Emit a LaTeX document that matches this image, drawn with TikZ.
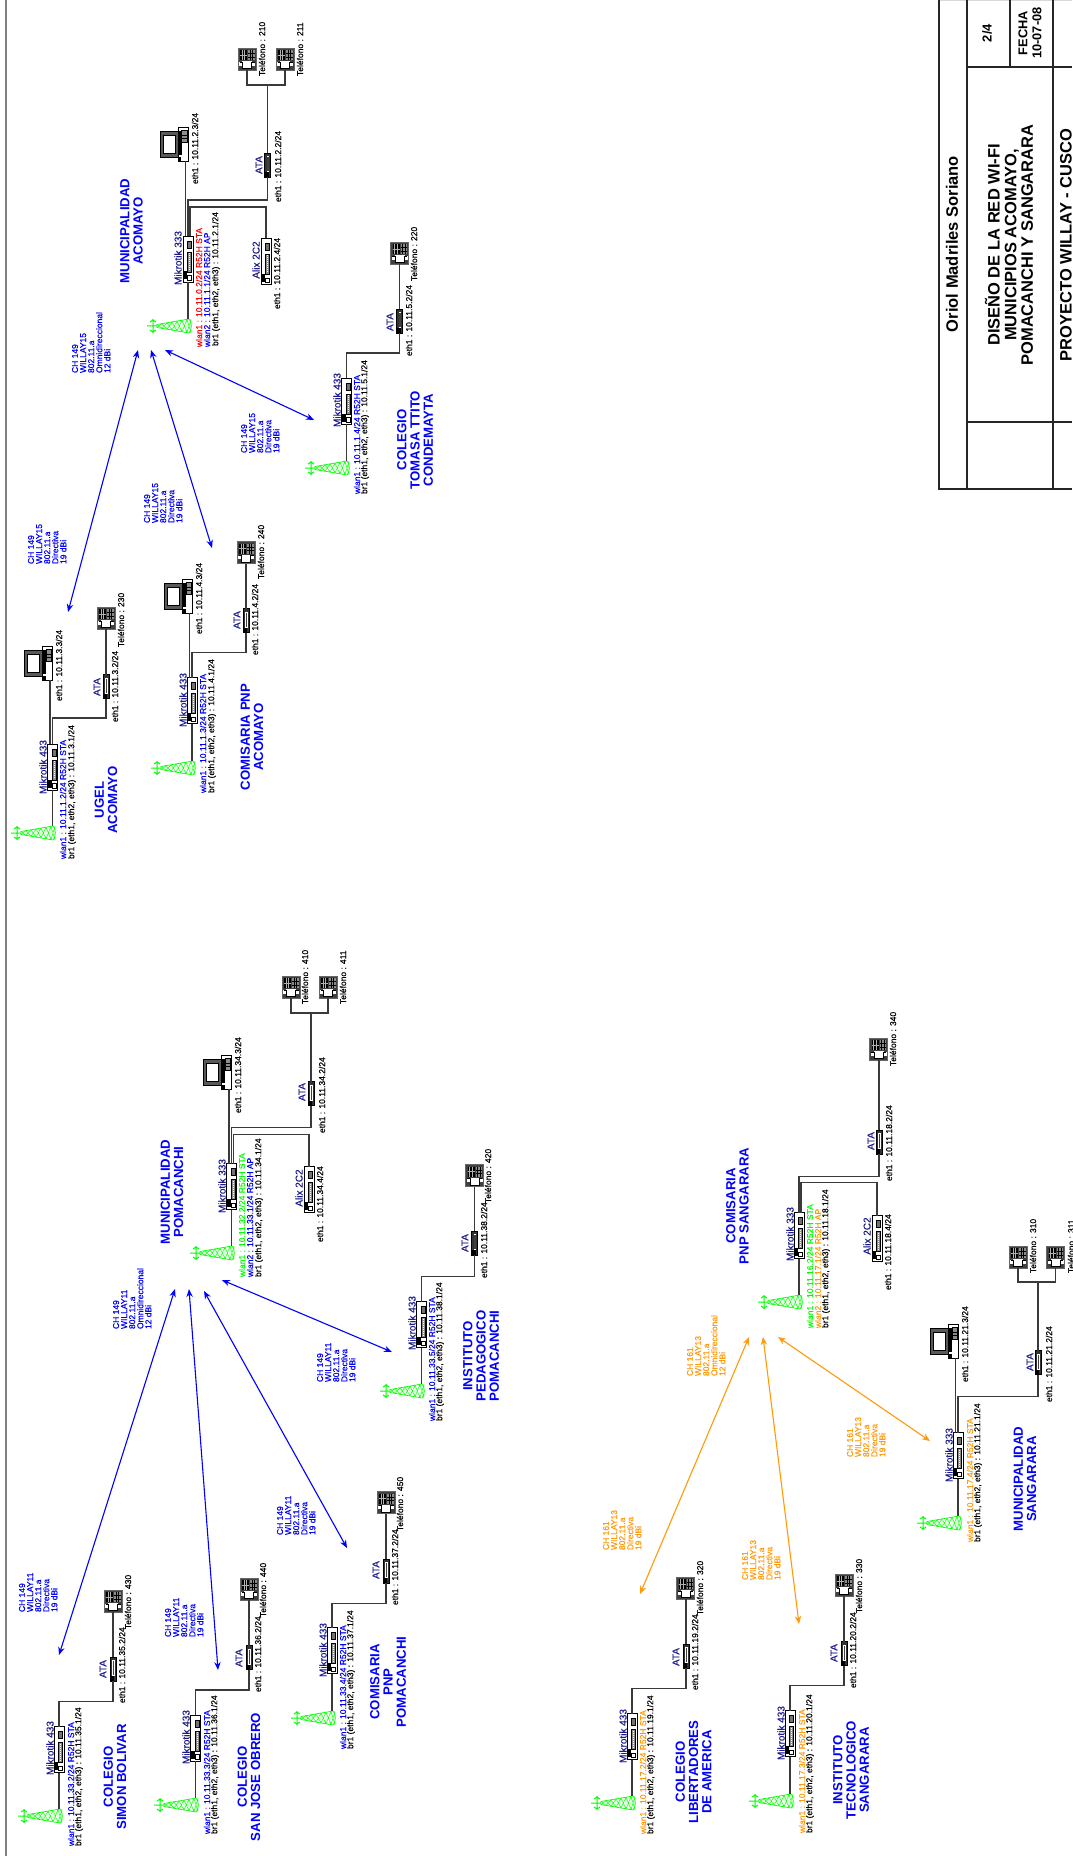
\documentclass[tikz,border=0pt]{standalone}
\usepackage{fontspec}
\setmainfont{Liberation Sans}
\newfontfamily\smallf[FakeBold=0.3]{Liberation Sans}
\usetikzlibrary{arrows.meta}
\definecolor{navyc}{HTML}{1A1A8C}
\definecolor{orangec}{HTML}{FF9A0A}
\definecolor{bluec}{HTML}{0000FF}
\definecolor{greenc}{HTML}{00FF00}
\definecolor{redc}{HTML}{FF0000}
\definecolor{wirec}{HTML}{3A3A3A}
\newcounter{lblc}
\tikzset{
  base/.style={rotate=90,inner sep=0pt,outer sep=0pt},
  lab/.style={base,anchor=west,font=\smallf\fontsize{4.25}{4.25}\selectfont},
  dev/.style={base,anchor=center,text=navyc,font=\smallf\fontsize{5}{5}\selectfont},
  ant/.style={base,anchor=north west,align=left,font=\smallf\fontsize{4.25}{4.05}\selectfont},
  tit/.style={base,anchor=center,align=center,text=bluec,font=\fontsize{6.6}{6.65}\selectfont\bfseries},
  hdr/.style={base,anchor=center,align=center,text=black,font=\fontsize{8.25}{8.35}\selectfont\bfseries},
  wire/.style={draw=wirec,line width=0.6pt},
  frameln/.style={draw=black!85,line width=0.7pt},
  link/.style={line width=0.55pt,{Stealth[length=4pt,width=3.2pt]}-{Stealth[length=4pt,width=3.2pt]}},
  boxnode/.style={draw=black,fill=white,line width=0.4pt,inner sep=0pt,outer sep=0pt},
  towerln/.style={draw=greenc,line width=0.22pt},
}
\newcommand{\tx}[4][black]{\stepcounter{lblc}\node[lab,text=#1] (l\arabic{lblc}) at (#2,#3) {#4};}
\newcommand{\dv}[3]{\stepcounter{lblc}\node[dev] (l\arabic{lblc}) at (#1,#2) {#3};}
\newcommand{\an}[4][bluec]{\stepcounter{lblc}\node[ant,text=#1] (l\arabic{lblc}) at (#2,#3) {#4};}
\newcommand{\ti}[3]{\stepcounter{lblc}\node[tit] (l\arabic{lblc}) at (#1,#2) {#3};}
% tower: #2 = right edge, #3 = centre line
\newcommand{\Tower}[3]{%
  \node[inner sep=0pt,outer sep=0pt,minimum width=22.5pt,minimum height=7pt] (#1) at (#2-22.5,#3) {};
  \begin{scope}[shift={(#2,#3)}]
    \draw[towerln,line width=0.35pt] (-35,-1.5) -- (-3,-7) .. controls (0,-5) and (0,5) .. (-3,7) -- (-35,1.5) -- cycle;
    \foreach \xa/\ha/\xb/\hb in {-35/1.5/-30/2.4,-30/2.4/-25/3.2,-25/3.2/-20/4.1,-20/4.1/-15/4.9,-15/4.9/-10/5.8,-10/5.8/-5/6.7,-5/6.7/-1/7}{
      \draw[towerln] (\xa,-\ha) -- (\xb,\hb) (\xa,\ha) -- (\xb,-\hb) (\xb,-\hb) -- (\xb,\hb);
    }
    \draw[towerln,line width=0.5pt] (-45,0) -- (-35,0) (-39,-7) -- (-39,7) (-42,-4) -- (-39,-6) -- (-36,-4) (-42,4) -- (-39,6) -- (-36,4);
  \end{scope}}
\newcommand{\Router}[3]{%
  \node[boxnode,minimum width=5pt,minimum height=23pt] (#1) at (#2,#3) {};
  \begin{scope}[shift={(#2,#3)}]
    \fill[black] (-4.5,12.5) rectangle (-1,20.5);
    \draw[black,line width=0.25pt,fill=white] (-0.5,16.5) rectangle (3.5,21);
    \draw[black,line width=0.25pt,fill=black!45] (-0.5,-7) rectangle (3.5,13);
    \draw[white,line width=0.5pt,dash pattern=on 0.5pt off 0.5pt] (1.5,-6) -- (1.5,12);
    \draw[black,line width=0.25pt,fill=black!55] (-0.5,-18) rectangle (3.5,-11);
  \end{scope}}
\newcommand{\Ata}[3]{%
  \node[boxnode,fill=black!80,minimum width=3pt,minimum height=12pt] (#1) at (#2,#3) {};
  \begin{scope}[shift={(#2,#3)}]
    \fill[white] (-0.8,-9) rectangle (1.6,7);
    \fill[black!75] (-0.2,-8) rectangle (1,6);
    \fill[black] (-3,7) rectangle (1,12);
  \end{scope}}
\newcommand{\Phone}[3]{%
  \node[boxnode,fill=black!75,draw=black!60,minimum width=9pt,minimum height=11pt] (#1) at (#2,#3) {};
  \begin{scope}[shift={(#2,#3)}]
    \fill[black] (-7,-9) rectangle (0,1);
    \fill[black!45] (1,-9) rectangle (7.5,1);
    \draw[black,line width=0.25pt] (1,-5.5) -- (7.5,-5.5) (1,-2) -- (7.5,-2) (3,-9) -- (3,1) (5.3,-9) -- (5.3,1);
    \draw[black!30,line width=0.25pt] (-5,-9) -- (-5,1) (-2.5,-9) -- (-2.5,1) (-7,-4) -- (0,-4);
    \draw[white,fill=white] (-7.5,3.5) rectangle (7.5,6) (-4.5,2.5) rectangle (4.5,9.5);
    \draw[black,line width=0.25pt] (-7.5,3) -- (-4.5,3) -- (-4.5,9.5) -- (4.5,9.5) -- (4.5,3) -- (7.5,3);
  \end{scope}}
\newcommand{\Pc}[3]{%
  \node[inner sep=0pt,outer sep=0pt,minimum width=14pt,minimum height=17pt] (#1) at (#2,#3) {};
  \begin{scope}[shift={(#2,#3)}]
    \draw[black,line width=0.35pt,fill=black!65] (-14,-13) rectangle (4,13);
    \draw[black,line width=0.35pt,fill=white] (-11,-9) rectangle (1,9);
    \draw[black,line width=0.35pt,fill=white] (4,-17) rectangle (14,17);
    \fill[black] (4,-13) rectangle (7.5,11);
    \draw[black,line width=0.25pt,fill=black!45] (7.5,-13.5) rectangle (13,-2);
    \draw[black,line width=0.25pt] (7.5,-9) -- (13,-9) (7.5,-5.5) -- (13,-5.5);
    \fill[black] (4,13) rectangle (7,17);
  \end{scope}}
\begin{document}
\begin{tikzpicture}[x=0.5pt,y=-0.5pt]
\useasboundingbox (0,0) rectangle (1072,1856);
\fill[white] (0,0) rectangle (1072,1856);
% outer frame line
\coordinate (ft) at (6,0); \coordinate (fb) at (6,1856);
\draw[draw=black!50,line width=1pt] (ft) -- (fb);
% title block
\coordinate (b0) at (939,0); \coordinate (b1) at (939,489); \coordinate (b2) at (1072,489);
\coordinate (v1t) at (967,0); \coordinate (v1b) at (967,489);
\coordinate (v2t) at (1053,0); \coordinate (v2b) at (1053,489);
\coordinate (h1l) at (967,67); \coordinate (h1r) at (1072,67);
\coordinate (h2l) at (967,422); \coordinate (h2r) at (1072,422);
\coordinate (v3t) at (1010,0); \coordinate (v3b) at (1010,67);
\coordinate (tl) at (939,0.5); \coordinate (tr) at (1072,0.5);
\draw[draw=black!15,line width=0.7pt] (tl) -- (tr);
\draw[frameln] (b0) -- (b1) -- (b2);
\draw[frameln] (v1t) -- (v1b);
\draw[frameln] (v2t) -- (v2b);
\draw[frameln] (h1l) -- (h1r);
\draw[frameln] (h2l) -- (h2r);
\draw[frameln] (v3t) -- (v3b);
\node[hdr] (h1) at (952,244) {Oriol Madriles Soriano};
\node[hdr] (h2) at (1009,245) {DISEÑO DE LA RED WI-FI\\MUNICIPIOS ACOMAYO,\\POMACANCHI Y SANGARARA};
\node[hdr] (h3) at (1066,245) {PROYECTO WILLAY - CUSCO};
\node[hdr,font=\fontsize{6.5}{6.5}\selectfont\bfseries] (h4) at (987,33) {2/4};
\node[hdr,font=\fontsize{6.4}{7}\selectfont\bfseries] (h5) at (1030,33) {FECHA\\10-07-08};

% ---------- MUNICIPALIDAD ACOMAYO
\Tower{t1}{192}{326}\Router{r1}{188}{259}\Ata{a1}{267.5}{165}\Phone{p1a}{247}{59}\Phone{p1b}{285}{59}\Router{x1}{266}{261.5}\Pc{c1}{174}{144}
\draw[wire] (t1.north -| r1.south) -- (r1.south);
\draw[wire] ([xshift=-1.25pt]r1.north) -- ([xshift=-1.25pt]r1.north |- c1.south);
\draw[wire] (r1.north) -- ++(0,-36) -| (a1.south);
\draw[wire] ([xshift=1pt]r1.north) -- ++(0,-29) -| (x1.north);
\coordinate (j1) at (267.5,85);
\draw[wire] (a1.north) -- (j1);
\draw[wire] (p1a.south) -- (p1a.south |- j1) -- (p1b.south |- j1) -- (p1b.south);
\dv{178}{258}{Mikrotik 333}
\tx[redc]{199}{347}{wlan1 : 10.11.0.2/24 R52H STA}
\tx[bluec]{207}{347}{wlan2 : 10.11.1.1/24 R52H AP}
\tx{216}{346}{br1 (eth1, eth2, eth3) : 10.11.2.1/24}
\tx{195}{184}{eth1 : 10.11.2.3/24}
\tx{278}{202}{eth1 : 10.11.2.2/24}
\dv{259}{165}{ATA}\dv{256}{260}{Alix 2C2}
\tx{277}{309}{eth1 : 10.11.2.4/24}
\tx{262}{76}{Teléfono : 210}\tx{300}{76}{Teléfono : 211}
\ti{131.5}{231}{MUNICIPALIDAD\\ACOMAYO}
\an{72}{373}{CH 149\\WILLAY15\\802.11.a\\Omnidireccional\\12 dBi}

% ---------- TOMASA TTITO
\Tower{t2}{350}{468}\Router{r2}{346.5}{401}\Ata{a2}{399.5}{321}\Phone{p2}{399.5}{253}
\draw[wire] (t2.north -| r2.south) -- (r2.south);
\draw[wire] (r2.north) -- ++(0,-25) -| (a2.south);
\draw[wire] (a2.north) -- (p2.south);
\dv{337}{400}{Mikrotik 433}
\tx[bluec]{357}{494}{wlan1 : 10.11.1.4/24 R52H STA}
\tx{365}{494}{br1 (eth1, eth2, eth3) : 10.11.5.1/24}
\dv{390}{322}{ATA}
\tx{409}{356}{eth1 : 10.11.5.2/24}\tx{414}{281}{Teléfono : 220}
\ti{415}{440}{COLEGIO\\TOMASA TTITO\\CONDEMAYTA}
\an{241}{453}{CH 149\\WILLAY15\\802.11.a\\Directiva\\19 dBi}

% ---------- UGEL
\Tower{t3}{56}{833}\Router{r3}{52.5}{767}\Ata{a3}{106}{686.5}\Phone{p3}{106}{618}\Pc{c3}{38.5}{663}
\draw[wire] (t3.north -| r3.south) -- (r3.south);
\draw[wire] ([xshift=-1.25pt]r3.north) -- ([xshift=-1.25pt]r3.north |- c3.south);
\draw[wire] (r3.north) -- ++(0,-26) -| (a3.south);
\draw[wire] (a3.north) -- (p3.south);
\dv{43}{767}{Mikrotik 433}
\tx[bluec]{63}{859}{wlan1 : 10.11.1.2/24 R52H STA}
\tx{72}{859}{br1 (eth1, eth2, eth3) : 10.11.3.1/24}
\tx{59}{701}{eth1 : 10.11.3.3/24}
\dv{97}{687}{ATA}
\tx{115}{722}{eth1 : 10.11.3.2/24}\tx{121}{647}{Teléfono : 230}
\ti{106}{800}{UGEL\\ACOMAYO}
\an{28}{564}{CH 149\\WILLAY15\\802.11.a\\Directiva\\19 dBi}

% ---------- COMISARIA PNP ACOMAYO
\Tower{t4}{196}{768}\Router{r4}{192}{700.5}\Ata{a4}{246}{620.5}\Phone{p4}{246}{552.5}\Pc{c4}{178.5}{596}
\draw[wire] (t4.north -| r4.south) -- (r4.south);
\draw[wire] ([xshift=-1.25pt]r4.north) -- ([xshift=-1.25pt]r4.north |- c4.south);
\draw[wire] (r4.north) -- ++(0,-25) -| (a4.south);
\draw[wire] (a4.north) -- (p4.south);
\dv{183}{700}{Mikrotik 433}
\tx[bluec]{203}{793}{wlan1 : 10.11.1.3/24 R52H STA}
\tx{212}{793}{br1 (eth1, eth2, eth3) : 10.11.4.1/24}
\tx{199}{634}{eth1 : 10.11.4.3/24}
\dv{237}{620}{ATA}
\tx{255}{655}{eth1 : 10.11.4.2/24}\tx{261}{579}{Teléfono : 240}
\ti{252}{737}{COMISARIA PNP\\ACOMAYO}
\an{144}{523}{CH 149\\WILLAY15\\802.11.a\\Directiva\\19 dBi}

% acomayo links
\coordinate (la1) at (138,350); \coordinate (la2) at (68,612);
\coordinate (lb1) at (151,350); \coordinate (lb2) at (212,548);
\coordinate (lc1) at (165,350); \coordinate (lc2) at (314,420);
\draw[link,bluec] (la1) -- (la2);
\draw[link,bluec] (lb1) -- (lb2);
\draw[link,bluec] (lc1) -- (lc2);

% ---------- MUNICIPALIDAD POMACANCHI
\Tower{t5}{235}{1253}\Router{r5}{231.5}{1186.5}\Ata{a5}{311}{1093.5}\Phone{p5a}{291}{987}\Phone{p5b}{328}{987}\Router{x5}{309}{1189.5}\Pc{c5}{217.5}{1072}
\draw[wire] (t5.north -| r5.south) -- (r5.south);
\draw[wire] ([xshift=-1.25pt]r5.north) -- ([xshift=-1.25pt]r5.north |- c5.south);
\draw[wire] (r5.north) -- ++(0,-36) -| (a5.south);
\draw[wire] ([xshift=1pt]r5.north) -- ++(0,-29) -| (x5.north);
\coordinate (j5) at (311,1013);
\draw[wire] (a5.north) -- (j5);
\draw[wire] (p5a.south) -- (p5a.south |- j5) -- (p5b.south |- j5) -- (p5b.south);
\dv{222}{1186}{Mikrotik 333}
\tx[greenc]{242}{1277}{wlan1 : 10.11.32.2/24 R52H STA}
\tx[bluec]{250}{1277}{wlan2 : 10.11.33.1/24 R52H AP}
\tx{259}{1277}{br1 (eth1, eth2, eth3) : 10.11.34.1/24}
\tx{238}{1113}{eth1 : 10.11.34.3/24}
\dv{302}{1092}{ATA}
\tx{322}{1133}{eth1 : 10.11.34.2/24}
\dv{299}{1188}{Alix 2C2}
\tx{320}{1242}{eth1 : 10.11.34.4/24}
\tx{305}{1004}{Teléfono : 410}\tx{343}{1004}{Teléfono : 411}
\ti{172}{1192}{MUNICIPALIDAD\\POMACANCHI}
\an{113}{1329}{CH 149\\WILLAY11\\802.11.a\\Omnidireccional\\12 dBi}

% ---------- INSTITUTO PEDAGOGICO
\Tower{t6}{425}{1391}\Router{r6}{421.5}{1324.5}\Ata{a6}{474.5}{1243}\Phone{p6}{474.5}{1175.5}
\draw[wire] (t6.north -| r6.south) -- (r6.south);
\draw[wire] (r6.north) -- ++(0,-25) -| (a6.south);
\draw[wire] (a6.north) -- (p6.south);
\dv{412}{1323}{Mikrotik 433}
\tx[bluec]{432}{1421}{wlan1 : 10.11.33.5/24 R52H STA}
\tx{440}{1421}{br1 (eth1, eth2, eth3) : 10.11.38.1/24}
\dv{465}{1243}{ATA}
\tx{484}{1278}{eth1 : 10.11.38.2/24}\tx{488}{1203}{Teléfono : 420}
\ti{481}{1356}{INSTITUTO\\PEDAGOGICO\\POMACANCHI}
\an{317}{1382}{CH 149\\WILLAY11\\802.11.a\\Directiva\\19 dBi}

% ---------- SIMON BOLIVAR
\Tower{t7}{63}{1816}\Router{r7}{59}{1749.5}\Ata{a7}{113}{1669}\Phone{p7}{113}{1601}
\draw[wire] (t7.north -| r7.south) -- (r7.south);
\draw[wire] (r7.north) -- ++(0,-25) -| (a7.south);
\draw[wire] (a7.north) -- (p7.south);
\dv{50}{1748}{Mikrotik 433}
\tx[bluec]{71}{1846}{wlan1 : 10.11.33.2/24 R52H STA}
\tx{79}{1846}{br1 (eth1, eth2, eth3) : 10.11.35.1/24}
\dv{103}{1669}{ATA}
\tx{122}{1703}{eth1 : 10.11.35.2/24}\tx{128}{1629}{Teléfono : 430}
\ti{115}{1777}{COLEGIO\\SIMON BOLIVAR}
\an{19}{1612}{CH 149\\WILLAY11\\802.11.a\\Directiva\\19 dBi}

% ---------- SAN JOSE OBRERO
\Tower{t8}{199}{1805}\Router{r8}{195.5}{1738}\Ata{a8}{249}{1657.5}\Phone{p8}{249}{1589}
\draw[wire] (t8.north -| r8.south) -- (r8.south);
\draw[wire] (r8.north) -- ++(0,-25) -| (a8.south);
\draw[wire] (a8.north) -- (p8.south);
\dv{186}{1737}{Mikrotik 433}
\tx[bluec]{207}{1834}{wlan1 : 10.11.33.3/24 R52H STA}
\tx{215}{1834}{br1 (eth1, eth2, eth3) : 10.11.36.1/24}
\dv{239}{1658}{ATA}
\tx{258}{1692}{eth1 : 10.11.36.2/24}\tx{263}{1617}{Teléfono : 440}
\ti{249}{1777}{COLEGIO\\SAN JOSE OBRERO}
\an{165}{1637}{CH 149\\WILLAY11\\802.11.a\\Directiva\\19 dBi}

% ---------- COMISARIA PNP POMACANCHI
\Tower{t9}{336}{1718}\Router{r9}{332}{1650.5}\Ata{a9}{386}{1571}\Phone{p9}{386}{1502.5}
\draw[wire] (t9.north -| r9.south) -- (r9.south);
\draw[wire] (r9.north) -- ++(0,-24) -| (a9.south);
\draw[wire] (a9.north) -- (p9.south);
\dv{323}{1650}{Mikrotik 433}
\tx[bluec]{343}{1749}{wlan1 : 10.11.33.4/24 R52H STA}
\tx{351}{1749}{br1 (eth1, eth2, eth3) : 10.11.37.1/24}
\dv{376}{1570}{ATA}
\tx{395}{1605}{eth1 : 10.11.37.2/24}\tx{400}{1531}{Teléfono : 450}
\ti{388}{1682}{COMISARIA\\PNP\\POMACANCHI}
\an{277}{1535}{CH 149\\WILLAY11\\802.11.a\\Directiva\\19 dBi}

% pomacanchi links
\coordinate (ld1) at (175,1289); \coordinate (ld2) at (59,1655);
\coordinate (le1) at (189,1289); \coordinate (le2) at (218,1670);
\coordinate (lf1) at (204,1291); \coordinate (lf2) at (347,1548);
\coordinate (lg1) at (222,1280); \coordinate (lg2) at (392,1352);
\draw[link,bluec] (ld1) -- (ld2);
\draw[link,bluec] (le1) -- (le2);
\draw[link,bluec] (lf1) -- (lf2);
\draw[link,bluec] (lg1) -- (lg2);

% ---------- COMISARIA PNP SANGARARA
\Tower{t10}{803}{1302}\Router{r10}{799}{1235.5}\Ata{a10}{879}{1142}\Phone{p10}{878.5}{1049}\Router{x10}{877}{1238.5}
\draw[wire] (t10.north -| r10.south) -- (r10.south);
\draw[wire] (r10.north) -- ++(0,-36) -| (a10.south);
\draw[wire] ([xshift=1pt]r10.north) -- ++(0,-30) -| (x10.north);
\draw[wire] (a10.north) -- (a10.north |- p10.south);
\dv{790}{1234}{Mikrotik 333}
\tx[greenc]{810}{1328}{wlan1 : 10.11.16.2/24 R52H STA}
\tx[orangec]{818}{1328}{wlan2 : 10.11.17.1/24 R52H AP}
\tx{826}{1328}{br1 (eth1, eth2, eth3) : 10.11.18.1/24}
\dv{871}{1141}{ATA}
\tx{889}{1181}{eth1 : 10.11.18.2/24}
\dv{867}{1236}{Alix 2C2}
\tx{888}{1290}{eth1 : 10.11.18.4/24}
\tx{893}{1066}{Teléfono : 340}
\ti{737.5}{1206}{COMISARIA\\PNP SANGARARA}
\an[orangec]{687}{1376}{CH 161\\WILLAY13\\802.11.a\\Omnidireccional\\12 dBi}

% ---------- MUNICIPALIDAD SANGARARA
\Tower{t11}{962}{1523}\Router{r11}{958}{1455.5}\Ata{a11}{1038}{1362.5}\Phone{p11a}{1018}{1257}\Phone{p11b}{1055.5}{1257}\Pc{c11}{944.5}{1341}
\draw[wire] (t11.north -| r11.south) -- (r11.south);
\draw[wire] ([xshift=-1.25pt]r11.north) -- ([xshift=-1.25pt]r11.north |- c11.south);
\draw[wire] (r11.north) -- ++(0,-36) -| (a11.south);
\coordinate (j11) at (1038,1282);
\draw[wire] (a11.north) -- (j11);
\draw[wire] (p11a.south) -- (p11a.south |- j11) -- (p11b.south |- j11) -- (p11b.south);
\dv{949}{1455}{Mikrotik 333}
\tx[orangec]{970}{1542}{wlan1 : 10.11.17.4/24 R52H STA}
\tx{978}{1542}{br1 (eth1, eth2, eth3) : 10.11.21.1/24}
\tx{965}{1382}{eth1 : 10.11.21.3/24}
\dv{1030}{1362}{ATA}
\tx{1049}{1402}{eth1 : 10.11.21.2/24}
\tx{1033}{1273}{Teléfono : 310}\tx{1071}{1273}{Teléfono : 311}
\ti{1025}{1479}{MUNICIPALIDAD\\SANGARARA}
\an[orangec]{847}{1457}{CH 161\\WILLAY13\\802.11.a\\Directiva\\19 dBi}

% ---------- LIBERTADORES
\Tower{t12}{636}{1803}\Router{r12}{632}{1736.5}\Ata{a12}{686}{1656}\Phone{p12}{685.5}{1588}
\draw[wire] (t12.north -| r12.south) -- (r12.south);
\draw[wire] (r12.north) -- ++(0,-25) -| (a12.south);
\draw[wire] (a12.north) -- (a12.north |- p12.south);
\dv{623}{1736}{Mikrotik 433}
\tx[orangec]{643}{1834}{wlan1 : 10.11.17.2/24 R52H STA}
\tx{651}{1834}{br1 (eth1, eth2, eth3) : 10.11.19.1/24}
\dv{676}{1657}{ATA}
\tx{695}{1690}{eth1 : 10.11.19.2/24}\tx{700}{1615}{Teléfono : 320}
\ti{693.5}{1772}{COLEGIO\\LIBERTADORES\\DE AMERICA}
\an[orangec]{603}{1550}{CH 161\\WILLAY13\\802.11.a\\Directiva\\19 dBi}

% ---------- TECNOLOGICO SANGARARA
\Tower{t13}{794}{1801}\Router{r13}{790}{1733.5}\Ata{a13}{844}{1653.5}\Phone{p13}{844}{1585}
\draw[wire] (t13.north -| r13.south) -- (r13.south);
\draw[wire] (r13.north) -- ++(0,-25) -| (a13.south);
\draw[wire] (a13.north) -- (p13.south);
\dv{781}{1733}{Mikrotik 433}
\tx[orangec]{802}{1833}{wlan1 : 10.11.17.3/24 R52H STA}
\tx{810}{1833}{br1 (eth1, eth2, eth3) : 10.11.20.1/24}
\dv{834}{1653}{ATA}
\tx{853}{1688}{eth1 : 10.11.20.2/24}\tx{859}{1613}{Teléfono : 330}
\ti{851}{1770}{INSTITUTO\\TECNOLOGICO\\SANGARARA}
\an[orangec]{742}{1580}{CH 161\\WILLAY13\\802.11.a\\Directiva\\19 dBi}

% sangarara links
\coordinate (lh1) at (749,1337); \coordinate (lh2) at (640,1594);
\coordinate (li1) at (763,1337); \coordinate (li2) at (799,1624);
\coordinate (lj1) at (778,1337); \coordinate (lj2) at (930,1441);
\draw[link,orangec] (lh1) -- (lh2);
\draw[link,orangec] (li1) -- (li2);
\draw[link,orangec] (lj1) -- (lj2);
\end{tikzpicture}
\end{document}
